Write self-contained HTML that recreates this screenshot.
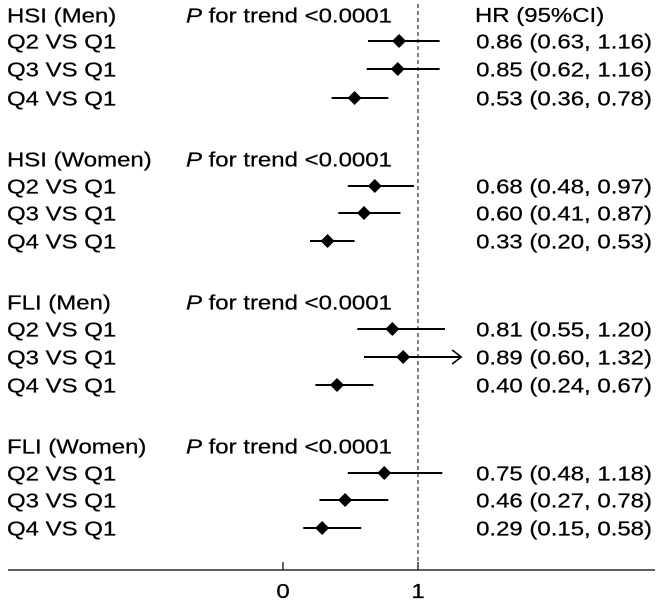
<!DOCTYPE html>
<html><head><meta charset="utf-8"><style>
body{margin:0;background:#fff}
svg{display:block;font-family:"Liberation Sans",Arial,sans-serif}
text{stroke:#000;stroke-width:0.25}
</style></head><body>
<svg width="661" height="604" viewBox="0 0 661 604" id="chart">
<line x1="418" y1="4" x2="418" y2="570" stroke="#000" stroke-width="1" stroke-dasharray="4,3"/>
<line x1="8" y1="570" x2="655" y2="570" stroke="#000" stroke-width="1.2"/>
<g id="marks"></g>
<g id="labels" font-size="20.5" fill="#000"></g>
</svg>
<script>
const groups = ["HSI (Men)", "HSI (Women)", "FLI (Men)", "FLI (Women)"];
const comparisons = ["Q2 VS Q1", "Q3 VS Q1", "Q4 VS Q1"];
const hr = [[0.86,0.85,0.53],[0.68,0.60,0.33],[0.81,0.89,0.40],[0.75,0.46,0.29]];
const lo = [[0.63,0.62,0.36],[0.48,0.41,0.20],[0.55,0.60,0.24],[0.48,0.27,0.15]];
const hi = [[1.16,1.16,0.78],[0.97,0.87,0.53],[1.20,1.32,0.67],[1.18,0.78,0.58]];
const xTicks = [0, 1];
const xMaxShown = 1.32;

// layout (pixel rows)
const headerCY = [15, 159, 302, 446];
const rowCY = [[41,69,98],[186,213,241],[329,357,385],[473,500,528]];
const SX = 1.17;

const NS = "http://www.w3.org/2000/svg";
const x = v => 283 + v * 135;
const marks = document.getElementById('marks');
const labels = document.getElementById('labels');
function mk(tag, attrs, parent, txt){
  const e = document.createElementNS(NS, tag);
  for (const k in attrs) e.setAttribute(k, attrs[k]);
  if (txt !== undefined) e.textContent = txt;
  parent.appendChild(e); return e;
}
function txt(px, py, s, anchor){
  const e = mk('text', {x: 0, y: 0, transform: 'translate(' + px + ',' + py + ') scale(' + SX + ',1)'}, labels, s);
  if (anchor) e.setAttribute('text-anchor', anchor);
  return e;
}
const fmt = v => v.toFixed(2);
let t = txt(475, 22, 'HR (95%CI)');



groups.forEach((g, gi) => {
  const hy = headerCY[gi];
  let h = txt(7, hy + 7.5, g);
  
  
  let p = txt(186, hy + 7.5);
  
  
  mk('tspan', {'font-style': 'italic'}, p, 'P');
  mk('tspan', {}, p, ' for trend <0.0001');
  comparisons.forEach((c, ci) => {
    const y = rowCY[gi][ci];
    let l = txt(7, y + 7.5, c);
    
    
    let v = txt(652, y + 7.5,
      fmt(hr[gi][ci]) + ' (' + fmt(lo[gi][ci]) + ', ' + fmt(hi[gi][ci]) + ')', 'end');
    
    
    const over = hi[gi][ci] > 1.25;
    const xe = x(Math.min(hi[gi][ci], xMaxShown));
    let ci_ = mk('line', {x1: x(lo[gi][ci]), x2: xe, y1: y, y2: y, stroke: '#000', 'stroke-width': 2}, marks);
    
    
    if (over) {
      let a = mk('polyline', {points: (xe-9)+','+(y-7)+' '+xe+','+y+' '+(xe-9)+','+(y+7), fill: 'none', stroke: '#000', 'stroke-width': 1.6}, marks);
      
      
    }
    const cx = x(hr[gi][ci]);
    let d = mk('polygon', {points: (cx-7)+','+y+' '+cx+','+(y-7)+' '+(cx+7)+','+y+' '+cx+','+(y+7), fill: '#000'}, marks);
    
    
  });
});
xTicks.forEach(v => {
  let tk = mk('line', {x1: x(v), x2: x(v), y1: 562, y2: 570, stroke: '#000', 'stroke-width': 1.2}, marks);
  
  
  let tl = txt(x(v), 598, String(v), 'middle');
  
  
});
</script>
</body></html>
